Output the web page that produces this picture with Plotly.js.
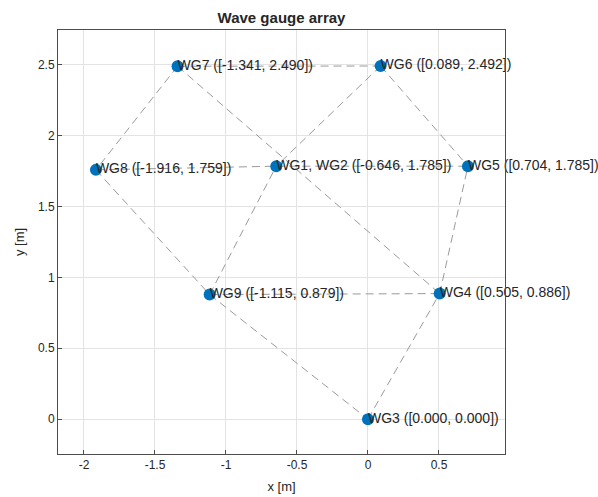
<!DOCTYPE html>
<html>
<head>
<meta charset="utf-8">
<script src="https://cdn.plot.ly/plotly-3.0.1.min.js"></script>
<style>html,body{margin:0;padding:0;background:#fff;}#chart{width:598px;height:497px;}</style>
</head>
<body>
<div id="chart"></div>
<script>
// Gauge names and positions [m]
const gaugeNames = ['WG1', 'WG2', 'WG3', 'WG4', 'WG5', 'WG6', 'WG7', 'WG8', 'WG9'];
const gaugeX = [-0.646, -0.646, 0.000, 0.505, 0.704, 0.089, -1.341, -1.916, -1.115];
const gaugeY = [1.785, 1.785, 0.000, 0.886, 1.785, 2.492, 2.490, 1.759, 0.879];

// Dashed connections between gauges
const edgeFrom = ['WG7', 'WG7', 'WG7', 'WG6', 'WG6', 'WG8', 'WG1', 'WG8', 'WG9', 'WG9', 'WG9', 'WG3', 'WG4'];
const edgeTo   = ['WG6', 'WG8', 'WG4', 'WG1', 'WG5', 'WG1', 'WG5', 'WG9', 'WG1', 'WG4', 'WG3', 'WG4', 'WG5'];

// Merge gauges at the same location
const ux = [], uy = [], ulabel = [];
gaugeNames.forEach((n, i) => {
  const k = ux.findIndex((x, j) => x === gaugeX[i] && uy[j] === gaugeY[i]);
  if (k >= 0) { ulabel[k].push(n); }
  else { ux.push(gaugeX[i]); uy.push(gaugeY[i]); ulabel.push([n]); }
});
const labels = ulabel.map((names, i) =>
  names.join(', ') + ' ([' + ux[i].toFixed(3) + ', ' + uy[i].toFixed(3) + '])');

const ex = [], ey = [];
edgeFrom.forEach((a, i) => {
  const ia = gaugeNames.indexOf(a), ib = gaugeNames.indexOf(edgeTo[i]);
  ex.push(gaugeX[ia], gaugeX[ib], null);
  ey.push(gaugeY[ia], gaugeY[ib], null);
});

const font = 'Liberation Sans, Arial, Helvetica, sans-serif';
const traces = [
  { x: ex, y: ey, mode: 'lines', type: 'scatter', hoverinfo: 'skip',
    line: { color: '#9a9a9a', width: 1, dash: '8px,5px' } },
  { x: ux, y: uy, mode: 'markers', type: 'scatter',
    marker: { size: 12, color: '#0072BD' } },
  { x: ux, y: uy, mode: 'text', type: 'scatter', text: labels,
    textposition: 'middle right', cliponaxis: false,
    textfont: { family: font, size: 14, color: '#262626' } }
];

const axisCommon = {
  showgrid: true, gridcolor: '#e3e3e3', gridwidth: 1,
  zeroline: false, showline: true, linecolor: '#4d4d4d', linewidth: 1, mirror: true,
  ticks: 'inside', ticklen: 4, tickcolor: '#4d4d4d',
  tickfont: { family: font, size: 12, color: '#262626' }
};

const layout = {
  width: 598, height: 497,
  margin: { l: 58, r: 93, t: 30, b: 43 },
  paper_bgcolor: '#ffffff', plot_bgcolor: '#ffffff',
  showlegend: false,
  font: { family: font, color: '#262626' },
  title: { text: '<b>Wave gauge array</b>', font: { family: font, size: 15, color: '#262626' },
           x: 0.5, xref: 'paper', xanchor: 'center', y: 1 - 18 / 497, yref: 'container', yanchor: 'middle' },
  xaxis: Object.assign({}, axisCommon, {
    range: [-2.183, 0.965], tickvals: [-2, -1.5, -1, -0.5, 0, 0.5],
    ticktext: ['-2', '-1.5', '-1', '-0.5', '0', '0.5'],
    title: { text: 'x [m]', font: { family: font, size: 13, color: '#262626' }, standoff: 10 }
  }),
  yaxis: Object.assign({}, axisCommon, {
    range: [-0.246, 2.746], tickvals: [0, 0.5, 1, 1.5, 2, 2.5],
    ticktext: ['0', '0.5', '1', '1.5', '2', '2.5'],
    title: { text: 'y [m]', font: { family: font, size: 13, color: '#262626' }, standoff: 10 }
  })
};

Plotly.newPlot('chart', traces, layout, { displayModeBar: false, staticPlot: true });
</script>
</body>
</html>
